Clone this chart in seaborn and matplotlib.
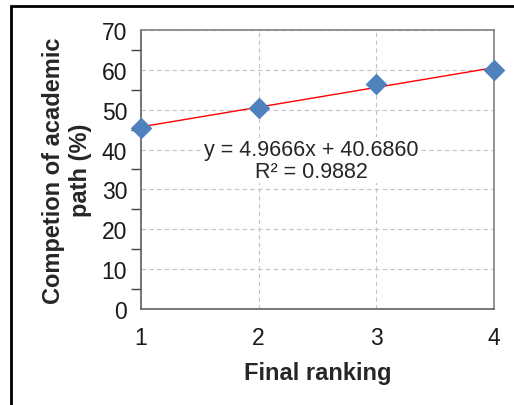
import numpy as np
import pandas as pd
import matplotlib
matplotlib.use("Agg")
import matplotlib.pyplot as plt
from matplotlib.ticker import MultipleLocator
from matplotlib.patches import Rectangle
import seaborn as sns

# data
ranking = [1, 2, 3, 4]
completion = [45.5, 50.5, 56.5, 60.0]
eq_text = "y = 4.9666x + 40.6860\nR\u00b2 = 0.9882"

df = pd.DataFrame({"ranking": ranking, "completion": completion})

sns.set_style("white")
plt.rcParams["font.family"] = ["Liberation Sans", "DejaVu Sans"]

fig = plt.figure(figsize=(5.14, 4.06), dpi=100)
ax = fig.add_axes([0.2743, 0.2365, 0.6868, 0.6871])

# outer frame (left + top black border)
fig.patches.append(Rectangle((11 / 514, -0.05), 1.1, (406 - 7) / 406 + 0.05,
                             transform=fig.transFigure, fill=False,
                             edgecolor="black", linewidth=2, zorder=0))

# linear trend line
sns.regplot(data=df, x="ranking", y="completion", ax=ax, ci=None,
            scatter=False, truncate=True,
            line_kws={"color": "#ff0000", "linewidth": 1})
# points
sns.scatterplot(data=df, x="ranking", y="completion", ax=ax, marker="D",
                s=105, color="#4f81bd", edgecolor="#4f81bd", zorder=3,
                clip_on=False)

ax.set_xlim(1, 4)
ax.set_ylim(0, 70)
ax.set_xticks(ranking)
ax.yaxis.set_major_locator(MultipleLocator(10))
ax.yaxis.set_minor_locator(MultipleLocator(5))
ax.grid(True, which="major", linestyle=(0, (4, 3)), color="#c4c4c4",
        linewidth=0.8)
ax.set_axisbelow(True)

ax.tick_params(axis="both", which="both", direction="out", color="#404040",
               labelsize=16.5, labelcolor="#1a1a1a")
ax.tick_params(axis="y", which="major", length=7, width=1, pad=3)
ax.tick_params(axis="y", which="minor", length=7, width=1, left=True)
ax.tick_params(axis="x", which="major", length=7, width=1, pad=5)

for side in ["left", "bottom"]:
    ax.spines[side].set_color("#606060")
    ax.spines[side].set_linewidth(1.2)
for side in ["top", "right"]:
    ax.spines[side].set_color("#808080")
    ax.spines[side].set_linewidth(1.2)
    ax.spines[side].set_visible(True)

ax.set_xlabel("Final ranking", fontsize=17, fontweight="bold", labelpad=9)
ax.set_ylabel("Competion of academic\npath (%)", fontsize=17,
              fontweight="bold", labelpad=7, linespacing=1.2)

ax.text(2.45, 37.3, eq_text, ha="center", va="center", fontsize=15.5,
        linespacing=1.1,
        bbox=dict(facecolor="white", edgecolor="none", pad=1))

fig.savefig("out.png", dpi=100)
